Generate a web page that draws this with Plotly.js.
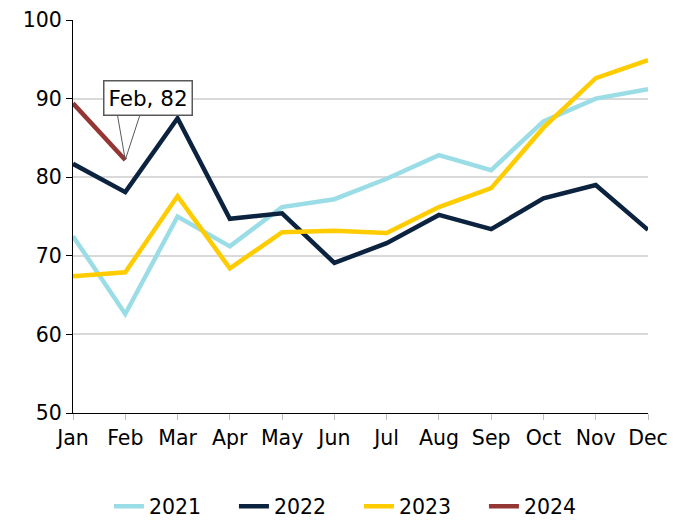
<!DOCTYPE html>
<html>
<head>
<meta charset="utf-8">
<script src="https://cdn.plot.ly/plotly-3.0.1.min.js"></script>
<style>html,body{margin:0;padding:0;background:#fff;}#chart{width:685px;height:520px;}</style>
</head>
<body>
<div id="chart"></div>
<script>
const months = ["Jan","Feb","Mar","Apr","May","Jun","Jul","Aug","Sep","Oct","Nov","Dec"];
const y2021 = [72.5, 62.6, 75.0, 71.2, 76.2, 77.2, 79.8, 82.8, 80.9, 87.1, 90.0, 91.2];
const y2022 = [81.7, 78.1, 87.5, 74.7, 75.4, 69.1, 71.6, 75.2, 73.4, 77.3, 79.0, 73.3];
const y2023 = [67.4, 67.9, 77.6, 68.4, 73.0, 73.2, 72.9, 76.2, 78.6, 86.3, 92.6, 94.9];
const y2024 = [89.4, 82.2];
const seriesNames = ["2021","2022","2023","2024"];
const seriesColors = ["#9BDDE6","#0C2340","#FFCC00","#943634"];
const seriesData = [y2021, y2022, y2023, y2024];

const traces = seriesData.map((d, i) => ({
  type: "scatter",
  mode: "lines",
  name: seriesNames[i],
  x: months.slice(0, d.length),
  y: d,
  line: {color: seriesColors[i], width: 4.5},
  hoverinfo: "x+y+name"
}));

const lastIdx = y2024.length - 1;
const annX = months[lastIdx];
const annY = y2024[lastIdx];
const font = {family: "DejaVu Sans, Verdana, sans-serif", size: 20.5, color: "#000"};
const annFont = {family: "DejaVu Sans, Verdana, sans-serif", size: 21.5, color: "#000"};

const layout = {
  width: 685, height: 520,
  margin: {l: 73, r: 37, t: 20, b: 107},
  paper_bgcolor: "#fff", plot_bgcolor: "#fff",
  font: font,
  showlegend: true,
  legend: {orientation: "h", x: 0.524, xanchor: "center", xref: "container",
           y: 0.026, yanchor: "middle", yref: "container",
           font: font, entrywidth: 80, entrywidthmode: "pixels", tracegroupgap: 0},
  xaxis: {
    type: "category", categoryarray: months, range: [0, 11],
    showline: true, linecolor: "#000", linewidth: 1,
    ticks: "outside", ticklen: 6, tickcolor: "#bfbfbf", tickwidth: 1,
    showgrid: false, zeroline: false, tickfont: font
  },
  yaxis: {
    range: [50, 100], dtick: 10, tick0: 50,
    showline: true, linecolor: "#000", linewidth: 1,
    ticks: "outside", ticklen: 6, tickcolor: "#000",
    showgrid: true, gridcolor: "#d9d9d9", gridwidth: 2, zeroline: false,
    tickfont: font
  },
  annotations: [
    {x: annX, y: annY, xref: "x", yref: "y", text: "", showarrow: true,
     arrowhead: 0, arrowwidth: 1, arrowcolor: "#595959", ax: -8, ay: -46},
    {x: annX, y: annY, xref: "x", yref: "y", text: "", showarrow: true,
     arrowhead: 0, arrowwidth: 1, arrowcolor: "#595959", ax: 15, ay: -46},
    {x: annX, y: annY, xref: "x", yref: "y", text: annX + ", " + Math.round(annY),
     showarrow: true, arrowcolor: "rgba(0,0,0,0)", arrowwidth: 0.1, arrowhead: 0,
     ax: 23, ay: -62, bgcolor: "#fff", bordercolor: "#595959", borderwidth: 1.5,
     borderpad: 4, font: annFont}
  ]
};

Plotly.newPlot("chart", traces, layout, {displayModeBar: false, staticPlot: true});
</script>
</body>
</html>
